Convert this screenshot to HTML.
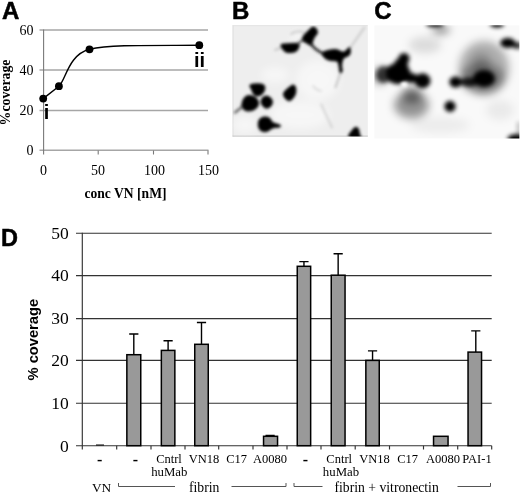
<!DOCTYPE html>
<html><head><meta charset="utf-8"><title>Figure</title>
<style>
html,body{margin:0;padding:0;background:#fff;}
svg{display:block;}
.ser{font-family:"Liberation Serif",serif;}
.san{font-family:"Liberation Sans",sans-serif;}
</style></head>
<body>
<svg width="520" height="494" viewBox="0 0 520 494">
<defs>
<filter id="b1" x="-50%" y="-50%" width="200%" height="200%"><feGaussianBlur stdDeviation="1.400"/></filter>
<filter id="b2" x="-50%" y="-50%" width="200%" height="200%"><feGaussianBlur stdDeviation="2.100"/></filter>
<filter id="b3" x="-50%" y="-50%" width="200%" height="200%"><feGaussianBlur stdDeviation="4"/></filter>
<clipPath id="cB"><rect x="232.500" y="25.500" width="135.300" height="111"/></clipPath>
<clipPath id="cC"><rect x="374.400" y="25.300" width="145" height="113.200"/></clipPath>
</defs>
<rect width="520" height="494" fill="#fff"/>

<!-- Panel A -->
<g id="panelA">
<text class="san" x="2" y="18.8" font-size="24" font-weight="bold" stroke="#000" stroke-width="0.500">A</text>
<g stroke="#a6a6a6" stroke-width="1.400" fill="none">
<path d="M39.500 30H208M39.500 70H208M39.500 110.500H208M39.500 150.300H208.500"/>
<path d="M43.600 29.500V154.500M98.200 150.500v4M153.500 150.500v4M208 150.500v4" stroke="#7a7a7a" stroke-width="1.100"/>
</g>
<g class="ser" font-size="14" text-anchor="end">
<text x="33.600" y="34.600">60</text><text x="33.600" y="74.600">40</text><text x="33.600" y="115">20</text><text x="33.600" y="155">0</text>
</g>
<g class="ser" font-size="14" text-anchor="middle">
<text x="43.500" y="174.500">0</text><text x="98" y="174.500">50</text><text x="154.500" y="174.500">100</text><text x="208.500" y="174.500">150</text>
</g>
<text class="ser" font-size="14" font-weight="bold" x="84.500" y="197.500" textLength="82" lengthAdjust="spacingAndGlyphs">conc VN [nM]</text>
<text class="ser" font-size="13.800" font-weight="bold" transform="translate(9.700,125.400) rotate(-90)">%coverage</text>
<path d="M43.200 98.600 L58.900 86.200 C66 80 68 55 89.500 49.300 C110 44.500 150 45.500 199.300 45.300" fill="none" stroke="#000" stroke-width="1.400"/>
<g fill="#000"><circle cx="43.200" cy="98.600" r="3.900"/><circle cx="58.900" cy="86.200" r="3.900"/><circle cx="89.500" cy="49.300" r="3.900"/><circle cx="199.300" cy="45.200" r="3.900"/></g>
<text class="san" font-size="20" font-weight="bold" x="43.800" y="119">i</text>
<text class="san" font-size="20" font-weight="bold" x="194" y="66.800">ii</text>
</g>

<!-- Panel B -->
<g id="panelB">
<text class="san" x="232" y="18.800" font-size="24" font-weight="bold" stroke="#000" stroke-width="0.500">B</text>
<rect x="232.500" y="25.500" width="135.300" height="111" fill="#eee"/><rect x="232.500" y="25.500" width="1.200" height="111" fill="#e2e2e2"/><rect x="232.500" y="135.600" width="135.300" height="1" fill="#c6c6c6"/><rect x="232.500" y="25.300" width="135.300" height="0.800" fill="#e0e0e0"/>
<g clip-path="url(#cB)">
<g filter="url(#b3)" fill="#fff" opacity="0.5"><ellipse cx="318" cy="80" rx="22" ry="20"/><ellipse cx="300" cy="115" rx="30" ry="14"/><ellipse cx="297" cy="36.500" rx="7" ry="5"/><ellipse cx="245" cy="125" rx="12" ry="8"/><ellipse cx="275" cy="75" rx="14" ry="8"/></g>
<g filter="url(#b1)" fill="none" stroke="#bdbdbd" stroke-width="1.800" stroke-linecap="round">
<path d="M350.300 47.600L364.500 27.500" stroke="#cdcdcd" stroke-width="2.200"/>
<path d="M291 34C295 31 301 30.500 304.500 33" stroke="#c4c4c4" stroke-width="1.600"/>
<path d="M340.800 72L338 80L335.500 87.500"/>
<path d="M321.200 104.200L327 117L332 127.500" stroke="#cfcfcf"/>
<path d="M242 107L235 112.500" stroke="#666" stroke-width="2.500"/>
<path d="M298 44C300 41 303 40 306 40" stroke="#222" stroke-width="1.500"/>
<path d="M311 44C315 50 320 52 324 54" stroke="#222" stroke-width="2.500"/>
<path d="M283 47L275 50" stroke="#bbb"/>
<path d="M313 86C316 90 318 90 321 91" stroke="#d8d8d8"/>
</g>
<g filter="url(#b1)" fill="#000" stroke="#000" stroke-width="0.900" stroke-linejoin="round">
<path d="M308.8 30.2C310.2 28.9 311.2 27.4 312.4 27.1C313.6 26.8 315.3 27.4 316.1 28.4C316.9 29.4 317.7 31.5 317.4 33.0C317.1 34.5 315.1 36.0 314.3 37.5C313.5 39.0 312.9 40.9 312.4 42.1C311.9 43.3 312.2 44.5 311.5 44.8C310.8 45.1 309.0 44.3 307.9 43.9C306.8 43.5 306.0 42.9 305.1 42.1C304.2 41.4 302.5 40.6 302.4 39.4C302.2 38.2 303.1 36.3 304.2 34.8C305.3 33.3 307.4 31.5 308.8 30.2Z"/>
<path d="M281.2 44.6C282.1 43.6 286.2 43.9 289.0 43.7C291.8 43.5 296.2 43.1 297.9 43.6C299.6 44.1 299.2 45.3 299.0 46.5C298.8 47.7 297.8 50.0 296.6 51.0C295.4 52.0 293.6 52.2 292.0 52.4C290.4 52.6 288.2 52.8 286.8 52.4C285.4 52.0 284.2 51.3 283.3 50.0C282.4 48.7 280.2 45.6 281.2 44.6Z"/>
<path d="M323.4 52.1C325.2 50.7 331.9 49.4 335.3 49.4C338.7 49.4 341.2 52.4 343.5 52.1C345.8 51.8 347.9 48.1 349.0 47.6C350.1 47.1 350.2 48.2 350.3 49.4C350.4 50.6 350.6 53.4 349.5 54.9C348.4 56.4 344.8 56.8 343.5 58.5C342.2 60.2 341.9 62.8 341.7 64.9C341.5 67.0 342.5 70.1 342.2 71.3C341.9 72.5 340.4 73.1 339.9 72.2C339.3 71.3 339.4 67.6 338.9 65.8C338.4 64.0 338.6 62.2 337.1 61.3C335.6 60.4 331.9 61.0 329.8 60.4C327.7 59.8 325.4 59.0 324.3 57.6C323.2 56.2 321.6 53.5 323.4 52.1Z"/>
<path d="M250.1 85.0C251.1 84.0 255.1 83.8 257.4 83.8C259.7 83.8 262.6 84.0 263.8 85.0C265.0 86.0 265.0 88.1 264.7 89.6C264.4 91.1 263.2 93.1 262.0 94.2C260.8 95.3 258.8 96.0 257.4 96.0C256.0 96.0 254.7 95.3 253.7 94.2C252.7 93.1 252.2 91.1 251.6 89.6C251.0 88.1 249.1 86.0 250.1 85.0Z"/>
<path d="M243.7 98.7C244.8 96.9 246.5 95.8 248.3 95.5C250.1 95.2 253.0 95.9 254.7 96.9C256.4 97.9 257.9 99.8 258.3 101.5C258.8 103.2 258.5 105.5 257.4 107.0C256.3 108.5 253.9 110.0 251.9 110.6C249.9 111.2 247.2 111.3 245.5 110.6C243.8 109.8 242.2 108.1 241.9 106.1C241.6 104.1 242.6 100.5 243.7 98.7Z"/>
<path d="M262.5 97.8C263.4 96.8 265.1 95.9 266.5 96.0C267.9 96.1 270.1 97.3 271.1 98.4C272.1 99.5 272.5 101.1 272.4 102.4C272.3 103.7 271.6 105.4 270.6 106.4C269.6 107.4 267.8 108.2 266.5 108.2C265.2 108.2 263.8 107.1 262.9 106.1C262.0 105.1 261.2 103.4 261.1 102.0C261.0 100.6 261.6 98.8 262.5 97.8Z"/>
<path d="M283.9 92.4C284.7 91.0 287.0 89.0 288.5 87.8C290.0 86.6 291.9 85.2 293.0 85.0C294.1 84.8 294.9 85.7 295.4 86.9C295.9 88.1 296.1 90.7 295.8 92.4C295.6 94.1 294.8 95.5 293.9 96.9C293.0 98.3 291.5 100.1 290.3 100.6C289.1 101.1 287.7 100.5 286.6 99.7C285.5 98.9 284.3 97.2 283.9 96.0C283.4 94.8 283.1 93.8 283.9 92.4Z"/>
<path d="M259.2 119.8C260.1 118.3 262.1 117.3 263.8 117.0C265.5 116.7 267.8 117.0 269.3 117.9C270.8 118.8 271.1 121.3 272.9 122.5C274.7 123.7 279.1 124.4 280.2 125.2C281.3 126.0 280.5 126.6 279.3 127.1C278.1 127.6 275.0 127.2 272.9 128.0C270.8 128.8 268.5 131.2 266.5 131.6C264.5 132.0 262.5 131.6 261.1 130.7C259.7 129.8 258.6 128.0 258.3 126.2C258.0 124.4 258.3 121.3 259.2 119.8Z"/>
<path d="M348.8 136.8C347.5 135.5 351.5 131.2 352.7 129.6C353.9 128.0 354.9 127.4 355.8 127.3C356.8 127.2 357.8 127.7 358.4 128.8C359.0 130.0 359.3 132.8 359.6 134.2C359.9 135.6 362.2 137.1 360.4 137.5C358.6 137.9 350.1 138.1 348.8 136.8Z"/>
</g>
</g>
</g>

<!-- Panel C -->
<g id="panelC">
<text class="san" x="374.300" y="19" font-size="24" font-weight="bold" stroke="#000" stroke-width="0.500">C</text>
<rect x="374.400" y="25.300" width="145" height="113.200" fill="#f9f9f9"/>
<g clip-path="url(#cC)">
<g filter="url(#b3)" fill="#000">
<ellipse cx="484" cy="68" rx="25" ry="27" opacity="0.3"/>
<ellipse cx="482" cy="78" rx="22" ry="15" opacity="0.35"/>
<ellipse cx="481" cy="63" rx="10" ry="10" opacity="0.22"/>
<ellipse cx="411.500" cy="105" rx="17.500" ry="13.500" opacity="0.4"/>
<ellipse cx="412" cy="95" rx="10" ry="9" opacity="0.4"/>
<ellipse cx="441" cy="30" rx="9" ry="4" opacity="0.45"/>
<ellipse cx="425" cy="45" rx="16" ry="8" opacity="0.12"/>
<ellipse cx="380" cy="76" rx="6" ry="8" opacity="0.5"/>
<ellipse cx="500" cy="110" rx="14" ry="10" opacity="0.06"/>
<ellipse cx="440" cy="125" rx="30" ry="8" opacity="0.05"/>
</g>
<g filter="url(#b2)" fill="#000">
<ellipse cx="398" cy="73.500" rx="12.500" ry="10.500"/>
<ellipse cx="384" cy="74.500" rx="7.500" ry="8.500" opacity="0.7"/>
<ellipse cx="404" cy="58.500" rx="5.500" ry="5.500"/>
<ellipse cx="401" cy="65" rx="7" ry="7"/>
<ellipse cx="422.500" cy="80.800" rx="8" ry="7.500"/>
<ellipse cx="411" cy="78" rx="7" ry="5"/>
<ellipse cx="455.500" cy="82" rx="6.200" ry="5.600"/>
<ellipse cx="484" cy="78.500" rx="11" ry="8.500"/>
<ellipse cx="469" cy="82" rx="9" ry="4.500" opacity="0.85"/>
<ellipse cx="450" cy="106.400" rx="5.600" ry="5.600"/>
<ellipse cx="507.800" cy="43" rx="7.500" ry="5"/>
<ellipse cx="517" cy="45.500" rx="5" ry="3.500" opacity="0.8"/>
<ellipse cx="497" cy="24.500" rx="7" ry="3"/>
<ellipse cx="435" cy="24.300" rx="9" ry="2.600"/>
<ellipse cx="516.500" cy="139" rx="9" ry="4.800"/>
<rect x="517.800" y="122" width="1.400" height="16" opacity="0.6"/>
</g>
<ellipse cx="404" cy="84.400" rx="3.500" ry="2.500" fill="#fff" filter="url(#b1)"/>
</g>
</g>

<!-- Panel D -->
<g id="panelD">
<text class="san" x="1" y="246" font-size="23.500" font-weight="bold" stroke="#000" stroke-width="0.500">D</text>
<g stroke="#333" stroke-width="1.150" fill="none">
<path d="M76 233.200H491.700M76 275.650H491.700M76 318.550H491.700M76 360.400H491.700M76 403.200H491.700M76 445.700H491.700"/>
<path d="M82.300 232.700V449.600"/>
<path d="M116.7 445.700v3.900M151.0 445.700v3.900M185.0 445.700v3.900M218.7 445.700v3.900M253.0 445.700v3.900M287.0 445.700v3.900M321.0 445.700v3.900M355.2 445.700v3.900M389.5 445.700v3.900M423.5 445.700v3.900M457.7 445.700v3.900M491.7 445.700v3.900"/>
</g>
<g class="ser" font-size="17.500" text-anchor="end">
<text x="68.700" y="239.0">50</text><text x="68.700" y="281.4">40</text><text x="68.700" y="324.3">30</text><text x="68.700" y="366.4">20</text><text x="68.700" y="409.0">10</text><text x="68.700" y="451.600">0</text>
</g>
<text class="san" font-size="14.700" font-weight="bold" transform="translate(37.800,380.500) rotate(-90)">% coverage</text>
<g id="bars" fill="#999" stroke="#000" stroke-width="1.500">
<path d="M96 445H104" stroke-width="1"/>
<rect x="126.85" y="354.70" width="13.90" height="91.00"/>
<rect x="161.35" y="350.40" width="13.50" height="95.30"/>
<rect x="194.75" y="344.30" width="13.50" height="101.40"/>
<rect x="263.55" y="436.30" width="14" height="9.40"/>
<rect x="297.25" y="266.30" width="13.40" height="179.40"/>
<rect x="331.25" y="275.20" width="13.80" height="170.50"/>
<rect x="365.85" y="360.40" width="13.40" height="85.30"/>
<rect x="433.55" y="436.30" width="14.50" height="9.40"/>
<rect x="468.05" y="352.10" width="13.50" height="93.60"/>
</g>
<g id="err" stroke="#000" stroke-width="1.400" fill="none">
<path d="M133.80 354.70V334.00M129.20 334.00h9.200"/>
<path d="M168.10 350.40V340.70M163.50 340.70h9.200"/>
<path d="M201.50 344.30V322.50M196.90 322.50h9.200"/>
<path d="M270.10 436.30V435.40M265.50 435.40h9.200"/>
<path d="M303.95 266.30V261.60M299.35 261.60h9.200"/>
<path d="M338.15 275.20V253.70M333.55 253.70h9.200"/>
<path d="M372.55 360.40V350.90M367.95 350.90h9.200"/>
<path d="M475.80 352.10V330.90M471.20 330.90h9.200"/>
</g>
<g class="ser" font-size="12.500" text-anchor="middle">
<text x="99.600" y="464.500" font-size="16" font-weight="bold">-</text>
<text x="135.500" y="464.500" font-size="16" font-weight="bold">-</text>
<text x="169" y="462.800">Cntrl</text><text x="169.300" y="475.800" font-size="12.800">huMab</text>
<text x="204" y="462.800">VN18</text>
<text x="236.700" y="462.800">C17</text>
<text x="270.100" y="462.800">A0080</text>
<text x="305.400" y="464.500" font-size="16" font-weight="bold">-</text>
<text x="339.200" y="462.800">Cntrl</text><text x="341" y="475.800" font-size="12.800">huMab</text>
<text x="374.600" y="462.800">VN18</text>
<text x="407.700" y="463.200">C17</text>
<text x="442.900" y="463.200">A0080</text>
<text x="477" y="463.200">PAI-1</text>
</g>
<g class="ser" font-size="13.700">
<text x="92" y="491.600" font-size="13.300">VN</text>
<text x="189" y="491.800">fibrin</text>
<text x="334.500" y="491.800">fibrin + vitronectin</text>
</g>
<g stroke="#555" stroke-width="1" fill="none">
<path d="M118.500 483v3.500H175M231.500 486.500H286v-3.500M294 483v3.500H322.500M457.500 486.500H490.500v-3.500"/>
</g>
</g>
</svg>
</body></html>
